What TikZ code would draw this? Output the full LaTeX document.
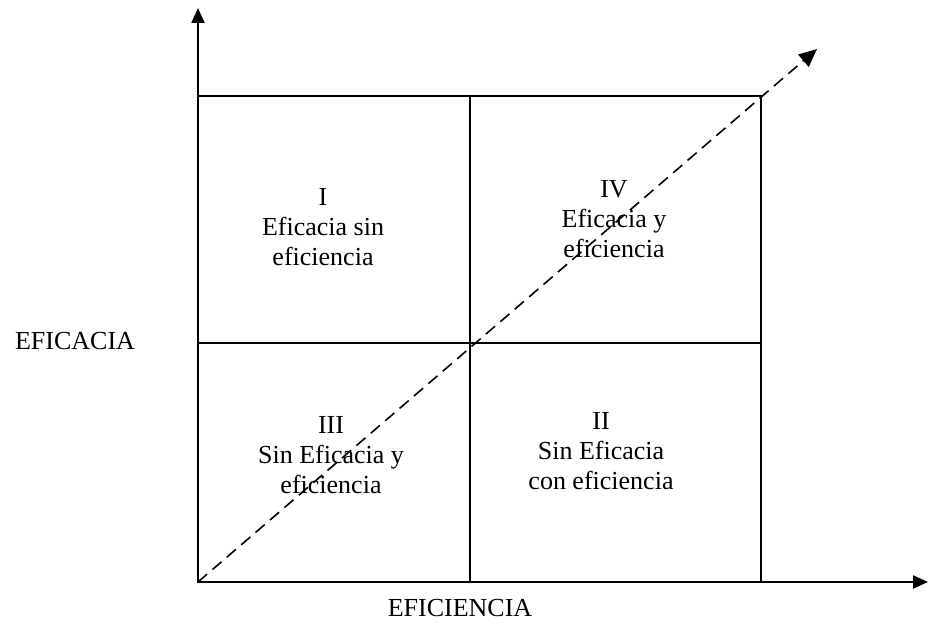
\documentclass[tikz,border=0pt]{standalone}
\usepackage{fontspec}
\setmainfont{Liberation Serif}
\usetikzlibrary{arrows.meta}

\begin{document}
\begin{tikzpicture}[x=0.5pt,y=-0.5pt,
        eje/.style={line width=1pt,-{Triangle[length=7.5pt,width=6.5pt]}},
        rejilla/.style={line width=0.7pt},
        cuadrante/.style={align=center,font=\fontsize{13}{15}\selectfont},
        etiqueta/.style={font=\fontsize{13}{15}\selectfont}]
        \useasboundingbox (0,0) rectangle (929,625);
        \coordinate (o) at (198,582);
        \coordinate (ytip) at (198,8);
        \coordinate (xtip) at (928,582);
        \coordinate (dtip) at (817,49);
        % cuadricula
        \draw[rejilla] (198,96) rectangle (761,582);
        \draw[rejilla] (470,96) -- (470,582);
        \draw[rejilla] (198,343) -- (761,343);
        % ejes
        \draw[eje] (o) -- (ytip);
        \draw[eje] (o) -- (xtip);
        \draw[line width=0.8pt,dash pattern=on 6pt off 3.5pt,-{Triangle[length=9pt,width=8pt]}] (o) -- (dtip);
        % textos
        \node[cuadrante] (q1) at (323,227) {I\\Eficacia sin\\eficiencia};
        \node[cuadrante] (q4) at (614,219) {IV\\Eficacia y\\eficiencia};
        \node[cuadrante] (q3) at (331,455) {III\\Sin Eficacia y\\eficiencia};
        \node[cuadrante] (q2) at (601,451) {II\\Sin Eficacia\\con eficiencia};
        \node[etiqueta,anchor=base west] (efic) at (8,349) {EFICACIA};
        \node[etiqueta,anchor=base] (efin) at (460,616) {EFICIENCIA};
    \end{tikzpicture}
\end{document}
